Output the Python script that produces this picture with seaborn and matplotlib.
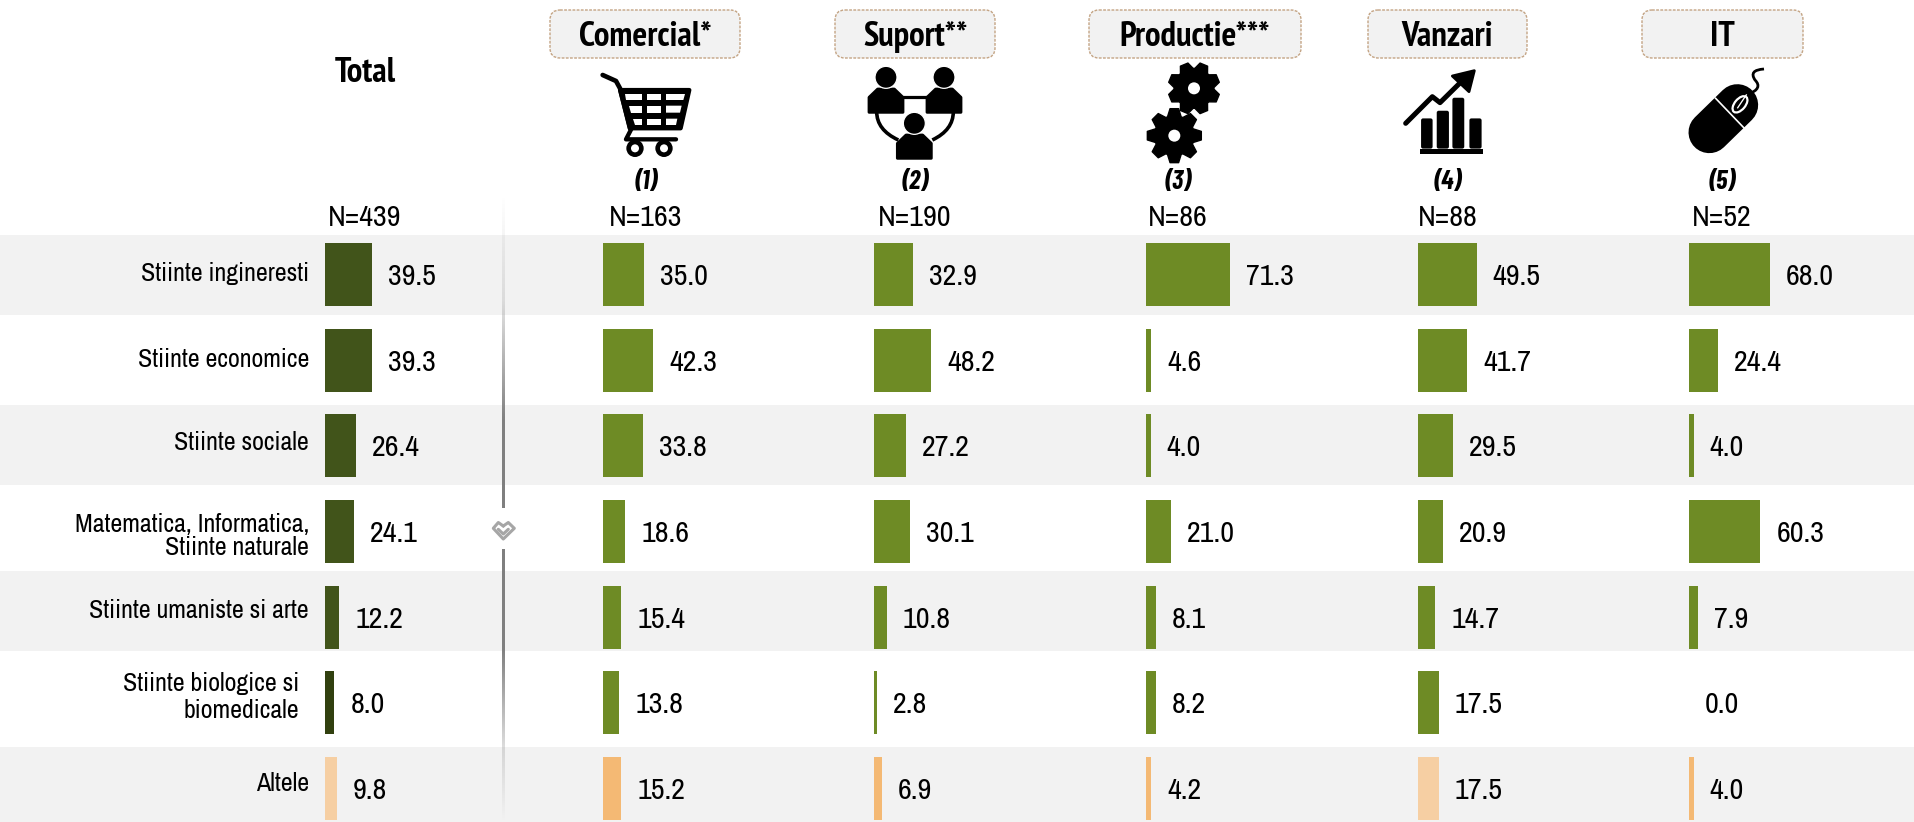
import numpy as np
import pandas as pd
import seaborn as sns
import matplotlib.pyplot as plt
from matplotlib.patches import FancyBboxPatch, Rectangle, Circle, Polygon, Ellipse, PathPatch
from matplotlib.path import Path

W, H = 1915, 822

categories = ["Stiinte ingineresti", "Stiinte economice", "Stiinte sociale",
              "Matematica, Informatica,\nStiinte naturale", "Stiinte umaniste si arte",
              "Stiinte biologice si\nbiomedicale", "Altele"]
total = [39.5, 39.3, 26.4, 24.1, 12.2, 8.0, 9.8]
comercial = [35.0, 42.3, 33.8, 18.6, 15.4, 13.8, 15.2]
suport = [32.9, 48.2, 27.2, 30.1, 10.8, 2.8, 6.9]
productie = [71.3, 4.6, 4.0, 21.0, 8.1, 8.2, 4.2]
vanzari = [49.5, 41.7, 29.5, 20.9, 14.7, 17.5, 17.5]
it = [68.0, 24.4, 4.0, 60.3, 7.9, 0.0, 4.0]
counts = ["N=439", "N=163", "N=190", "N=86", "N=88", "N=52"]
headers = ["Comercial*", "Suport**", "Productie***", "Vanzari", "IT"]
numbers = ["(1)", "(2)", "(3)", "(4)", "(5)"]

DARK = "#41541a"
DARKER = "#31400f"
GREEN = "#6e8b25"
ORANGE = "#f4b974"
PEACH = "#f6cfa3"
BAND = "#f2f2f2"
PX = 0.72  # points per pixel at dpi 100

REGULAR = ["Archivo Narrow", "Liberation Sans Narrow", "Liberation Sans"]
BOLD = ["PT Sans Narrow", "Liberation Sans Narrow", "Liberation Sans"]
ITALIC = ["Barlow Condensed", "Liberation Sans Narrow", "Liberation Sans"]

# px position of each panel's zero line
panel_left = [325, 603, 874, 1146, 1418, 1689]
text_center = [365, 646, 915, 1178, 1448, 1722]
pill_edges = [(550, 740), (835, 995), (1089, 1301), (1368, 1527), (1642, 1803)]
bands = [(235, 315), (405, 485), (571, 651), (747, 822)]
label_right = [309, 309, 309, 309, 309, 299, 309]
label_y = [273, 359, 442, 536, 610, 697, 783]
label_spacing = [1, 1, 1, 0.97, 1, 1.2, 1]

row_top = 274.5
row_step = 85.67
px_per_unit = 1.185
panel_w = 220

sns.set_theme(style="white")
plt.rcParams["font.family"] = REGULAR

fig = plt.figure(figsize=(W / 100, H / 100), dpi=100, facecolor="white")

back = fig.add_axes([0, 0, 1, 1], zorder=0)
back.set_xlim(0, W)
back.set_ylim(H, 0)
back.axis("off")
for y0, y1 in bands:
    back.add_patch(Rectangle((0, y0), W, y1 - y0, color=BAND, lw=0))


def draw_panel(values, left, colors):
    y_top = row_top - row_step / 2
    ax = fig.add_axes([left / W, 0, panel_w / W, (H - y_top) / H], zorder=1)
    df = pd.DataFrame({"cat": categories, "val": values})
    sns.barplot(data=df, y="cat", x="val", hue="cat", palette=dict(zip(categories, colors)),
                width=0.735, legend=False, saturation=1, linewidth=0, ax=ax)
    ax.set_xlim(0, panel_w / px_per_unit)
    ax.set_ylim((H - row_top) / row_step, -0.5)
    ax.axis("off")
    ax.patch.set_alpha(0)
    for c in ax.containers:
        for t in ax.bar_label(c, fmt="%.1f", padding=16 * PX, fontsize=21.6, color="black"):
            t.xyann = (t.xyann[0], -2 * PX)
    return ax


draw_panel(total, panel_left[0], [DARK] * 5 + [DARKER, PEACH])
draw_panel(comercial, panel_left[1], [GREEN] * 6 + [ORANGE])
draw_panel(suport, panel_left[2], [GREEN] * 6 + [ORANGE])
draw_panel(productie, panel_left[3], [GREEN] * 6 + [ORANGE])
draw_panel(vanzari, panel_left[4], [GREEN] * 6 + [PEACH])
draw_panel(it, panel_left[5], [GREEN] * 6 + [ORANGE])

top = fig.add_axes([0, 0, 1, 1], zorder=2)
top.set_xlim(0, W)
top.set_ylim(H, 0)
top.axis("off")
top.patch.set_alpha(0)

for name, yy, xx, sp in zip(categories, label_y, label_right, label_spacing):
    top.text(xx, yy, name, ha="right", va="center", fontsize=18.7, linespacing=sp, color="black")

top.text(365, 73, "Total", ha="center", va="center", fontsize=25, family=BOLD, fontweight="bold", color="black")
for n, cx in zip(counts, text_center):
    top.text(cx, 217, n, ha="center", va="center", fontsize=21.6, color="black")
for n, cx in zip(numbers, text_center[1:]):
    top.text(cx, 182, n, ha="center", va="center", fontsize=19, family=ITALIC, fontweight="bold", style="italic", color="black")
for name, (x0, x1) in zip(headers, pill_edges):
    top.add_patch(FancyBboxPatch((x0 + 8, 18), x1 - x0 - 16, 32, boxstyle="round,pad=8,rounding_size=10",
                                 fc=BAND, ec="#c4a484", lw=1, ls=(0, (2, 1))))
    top.text((x0 + x1) / 2, 37, name, ha="center", va="center", fontsize=25, family=BOLD, fontweight="bold", color="black")

# divider line, fades out at both ends
ys = np.linspace(195, 822, 300)
fade = np.interp(ys, [195, 300, 420, 650, 750, 822], [0, 0.2, 1, 1, 0.25, 0])
rgba = np.zeros((300, 1, 4))
rgba[..., :3] = 0.5
rgba[:, 0, 3] = fade
top.imshow(rgba, extent=[502, 505, 822, 195], aspect="auto", zorder=3, interpolation="bilinear")
top.set_xlim(0, W)
top.set_ylim(H, 0)
top.add_patch(Rectangle((498, 508), 10, 41, color="white", lw=0, zorder=4))
for pts in ([(503.3, 526), (498.3, 522.5), (493.3, 528.3), (503.3, 539), (514.3, 528.3), (508.3, 522.5), (503.3, 526)],
            [(498.3, 529.3), (503.3, 534), (508.3, 529.3)]):
    xs, yy = zip(*pts)
    top.plot(xs, yy, color="#a6a6a6", lw=2.2, zorder=5, solid_joinstyle="round")


# icons, coordinates are relative to a 110px box, given at 3x
def zoom_xy(ox, oy, pts):
    return [(ox + a / 3, oy + b / 3) for a, b in pts]


def line(ox, oy, pts, width, color="black", cap="round"):
    p = zoom_xy(ox, oy, pts)
    top.plot([a for a, b in p], [b for a, b in p], color=color, lw=width * PX / 3, solid_capstyle=cap,
             solid_joinstyle="round", zorder=6)


def poly(ox, oy, pts, color="black", ec=None, lw=0):
    top.add_patch(Polygon(zoom_xy(ox, oy, pts), closed=True, fc=color, ec=ec or color, lw=lw, joinstyle="round", zorder=6))


def circ(ox, oy, x, y, r, color="black", ec="none", lw=0):
    top.add_patch(Circle((ox + x / 3, oy + y / 3), r / 3, fc=color, ec=ec, lw=lw, zorder=7))


def draw_cart(ox, oy):
    line(ox, oy, [(38, 45), (78, 63), (90, 85), (120, 205)], 14)
    poly(ox, oy, [(90, 90), (298, 90), (272, 205), (120, 205)], ec="black", lw=3)
    rows = [(102, 120, 105, 155, 172, 212, 228, 285, 280),
            (137, 158, 118, 155, 172, 212, 228, 275, 270),
            (176, 195, 130, 157, 172, 212, 228, 262, 258)]
    for y0, y1, a0, a1, b0, b1, c0, c1, c2 in rows:
        poly(ox, oy, [(a0, y0), (a1, y0), (a1, y1), (a0 + 4, y1)], color="white")
        poly(ox, oy, [(b0, y0), (b1, y0), (b1, y1), (b0, y1)], color="white")
        poly(ox, oy, [(c0, y0), (c1, y0), (c2, y1), (c0, y1)], color="white")
    line(ox, oy, [(125, 205), (108, 238), (258, 238)], 13)
    for cx in (135, 222):
        circ(ox, oy, cx, 265, 26)
        circ(ox, oy, cx, 265, 12, color="white")


def draw_people(ox, oy):
    verts = zoom_xy(ox, oy, [(143, 110), (215, 110)])
    top.plot(*zip(*verts), color="black", lw=8 * PX / 3 * 1.2, zorder=6)
    for pts in ([(65, 155), (65, 210), (130, 240)], [(295, 155), (295, 210), (232, 240)]):
        p = Path(zoom_xy(ox, oy, pts), [Path.MOVETO, Path.CURVE3, Path.CURVE3])
        top.add_patch(PathPatch(p, fc="none", ec="black", lw=9 * PX / 3 * 1.2, zorder=6))
    for cx, hy in ((93, 52), (267, 52), (178, 190)):
        by = hy + 35
        poly(ox, oy, [(cx - 51, by + 70), (cx - 51, by + 25), (cx - 25, by), (cx + 25, by), (cx + 51, by + 25), (cx + 51, by + 70)],
             ec="black", lw=2)
        circ(ox, oy, cx, hy, 33, ec="white", lw=0.9)


def draw_gear(ox, oy, cx, cy, outer, inner, hole, start):
    pts = []
    for k in range(8):
        a = np.radians(start + k * 45)
        for off, rad in ((-20, inner), (-9, outer), (9, outer), (20, inner)):
            b = a + np.radians(off)
            pts.append((cx + rad * np.cos(b), cy - rad * np.sin(b)))
    poly(ox, oy, pts, ec="black", lw=1)
    circ(ox, oy, cx, cy, hole, color="white")


def draw_chart(ox, oy):
    for x0, x1, y0 in ((78, 113, 175), (125, 162, 152), (172, 208, 113), (223, 260, 175)):
        top.add_patch(FancyBboxPatch((ox + (x0 + 8) / 3, oy + (y0 + 8) / 3), (x1 - x0 - 16) / 3, (258 - y0 - 8) / 3,
                                     boxstyle="round,pad=2.6,rounding_size=2", fc="black", ec="none", zorder=6))
    top.add_patch(Rectangle((ox + 75 / 3, oy + 266 / 3), 188 / 3, 17 / 3, fc="black", ec="none", zorder=6))
    line(ox, oy, [(32, 190), (112, 110), (135, 128), (212, 52)], 15)
    poly(ox, oy, [(172, 48), (238, 32), (222, 95)], ec="black", lw=2)


def draw_mouse(ox, oy):
    line(ox, oy, [(88, 232), (172, 150)], 125)
    line(ox, oy, [(105, 128), (195, 222)], 5, color="white", cap="butt")
    line(ox, oy, [(200, 118), (172, 160)], 4, color="white", cap="butt")
    top.add_patch(Ellipse((ox + 180 / 3, oy + 148 / 3), 58 / 3, 32 / 3, angle=-50, fc="none", ec="white", lw=1.6, zorder=7))
    p = Path(zoom_xy(ox, oy, [(205, 118), (250, 100), (225, 75), (205, 45), (252, 42)]),
             [Path.MOVETO, Path.CURVE3, Path.CURVE3, Path.CURVE3, Path.CURVE3])
    top.add_patch(PathPatch(p, fc="none", ec="black", lw=2, zorder=6))


draw_cart(590, 60)
draw_people(855, 60)
draw_gear(1135, 60, 177, 85, 78, 60, 18, 22.5)
draw_gear(1135, 60, 118, 227, 82, 60, 18, 90)
draw_chart(1395, 60)
draw_mouse(1680, 55)

fig.savefig("out.png", dpi=100)
